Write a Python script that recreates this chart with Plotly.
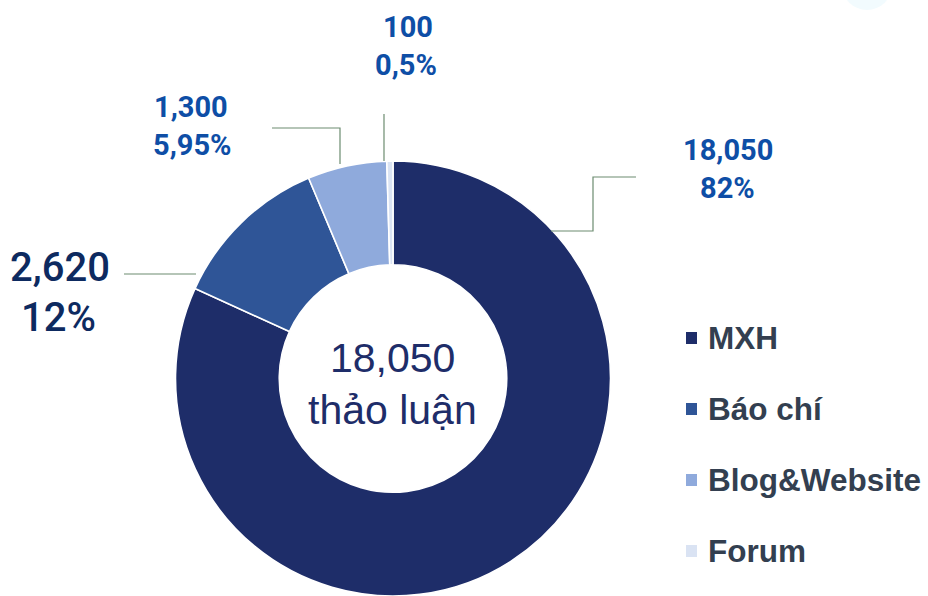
import plotly.graph_objects as go

# ---- data ----
categories = ["MXH", "Báo chí", "Blog&Website", "Forum"]
values = [18050, 2620, 1300, 100]
pct_labels = ["82%", "12%", "5,95%", "0,5%"]
colors = ["#1E2D69", "#2F5597", "#8FAADC", "#DAE3F3"]
center_lines = ["18,050", "thảo luận"]

W, H = 928, 596


def px(x, y):
    return x / W, 1 - y / H


fig = go.Figure()
fig.add_trace(go.Pie(
    labels=categories, values=values, sort=False, direction="clockwise",
    rotation=0, hole=0.523, textinfo="none", hoverinfo="skip",
    marker=dict(colors=colors, line=dict(color="white", width=1.6)),
    domain=dict(x=[175 / W, 611 / W], y=[0, 1 - 161 / H]),
    showlegend=False,
))

annotations = []
shapes = []

# faint decoration top-right
shapes.append(dict(type="circle", xref="paper", yref="paper",
                   x0=px(842, 0)[0], x1=px(892, 0)[0],
                   y0=px(0, 10)[1], y1=px(0, -40)[1],
                   fillcolor="#F2FBFE", line=dict(width=0), layer="below"))

# data labels: (value-line pos, pct-line pos, font size, color, weight)
label_layout = {
    "MXH": ((728, 150), (727, 188), 29, "#0E4EA6", 700),
    "Báo chí": ((60, 267), (59, 318), 40, "#0D2A60", 500),
    "Blog&Website": ((191, 107), (192, 145), 29, "#0E4EA6", 700),
    "Forum": ((408, 27), (406, 65), 29, "#0E4EA6", 700),
}
for cat, val, pct in zip(categories, values, pct_labels):
    (vx, vy), (qx, qy), fs, col, wt = label_layout[cat]
    for txt, (x, y) in ((f"{val:,}", (vx, vy)), (pct, (qx, qy))):
        ax, ay = px(x, y)
        annotations.append(dict(
            text=txt, x=ax, y=ay, xref="paper", yref="paper",
            xanchor="center", yanchor="middle", showarrow=False,
            font=dict(family="Roboto, Liberation Sans, sans-serif", size=fs,
                      color=col, weight=wt)))

# leader lines
leader_paths = {
    "MXH": [(636, 177), (593, 177), (593, 231), (551, 231)],
    "Báo chí": [(124, 274), (196, 274)],
    "Blog&Website": [(272, 128), (340, 128), (340, 164)],
    "Forum": [(384, 114), (384, 161)],
}
for cat in categories:
    pts = leader_paths[cat]
    path = "M " + " L ".join(f"{px(x, y)[0]:.5f},{px(x, y)[1]:.5f}" for x, y in pts)
    shapes.append(dict(type="path", xref="paper", yref="paper", path=path,
                       line=dict(color="#6C8C70", width=1.2)))

# center text
for txt, y in zip(center_lines, (358, 410)):
    ax, ay = px(392, y)
    annotations.append(dict(
        text=txt, x=ax, y=ay, xref="paper", yref="paper",
        xanchor="center", yanchor="middle", showarrow=False,
        font=dict(family="Liberation Sans, Arial, sans-serif", size=41,
                  color="#1E2D69")))

# legend (drawn manually for exact spacing)
legend_y = [338, 409, 480, 551]
for cat, col, y in zip(categories, colors, legend_y):
    x0, y0 = px(686, y - 6)
    x1, y1 = px(697, y + 6)
    shapes.append(dict(type="rect", xref="paper", yref="paper",
                       x0=x0, x1=x1, y0=y1, y1=y0, fillcolor=col,
                       line=dict(width=0)))
    ax, ay = px(706, y)
    annotations.append(dict(
        text=f"<b>{cat}</b>", x=ax, y=ay, xref="paper", yref="paper",
        xanchor="left", yanchor="middle", showarrow=False,
        font=dict(family="Liberation Sans, Arial, sans-serif", size=31.5,
                  color="#333F50")))

fig.update_layout(
    width=W, height=H, margin=dict(l=0, r=0, t=0, b=0),
    paper_bgcolor="white", plot_bgcolor="white",
    annotations=annotations, shapes=shapes,
)

fig.write_html("out.html",
               config={"displayModeBar": False},
               post_script="document.body.style.margin='0';"
                           "document.body.style.overflow='hidden';")
